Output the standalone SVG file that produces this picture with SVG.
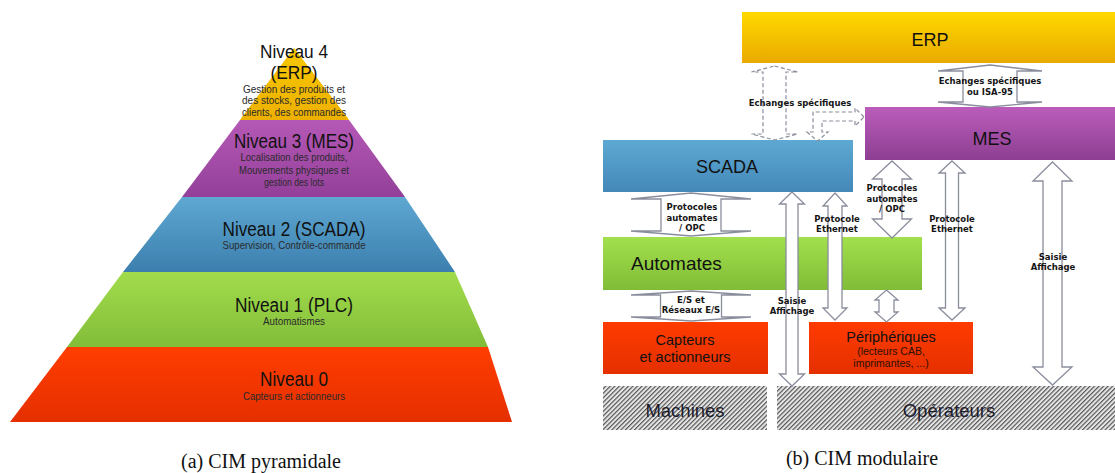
<svg xmlns="http://www.w3.org/2000/svg" width="1115" height="473" viewBox="0 0 1115 473">
  <defs>
    <linearGradient id="gY" x1="0" y1="0" x2="0" y2="1"><stop offset="0" stop-color="#f7c800"/><stop offset="1" stop-color="#eeb000"/></linearGradient>
    <linearGradient id="gP" x1="0" y1="0" x2="0" y2="1"><stop offset="0" stop-color="#b558b6"/><stop offset="1" stop-color="#93409a"/></linearGradient>
    <linearGradient id="gB" x1="0" y1="0" x2="0" y2="1"><stop offset="0" stop-color="#5ea8d2"/><stop offset="1" stop-color="#3c7fae"/></linearGradient>
    <linearGradient id="gG" x1="0" y1="0" x2="0" y2="1"><stop offset="0" stop-color="#a2dc4c"/><stop offset="1" stop-color="#82bd39"/></linearGradient>
    <linearGradient id="gR" x1="0" y1="0" x2="0" y2="1"><stop offset="0" stop-color="#ff3d00"/><stop offset="1" stop-color="#e52f00"/></linearGradient>
    <linearGradient id="bY" x1="0" y1="0" x2="0" y2="1"><stop offset="0" stop-color="#ffd800"/><stop offset="1" stop-color="#e9aa00"/></linearGradient>
    <linearGradient id="bP" x1="0" y1="0" x2="0" y2="1"><stop offset="0" stop-color="#bb5cbb"/><stop offset="1" stop-color="#8d3f92"/></linearGradient>
    <linearGradient id="bB" x1="0" y1="0" x2="0" y2="1"><stop offset="0" stop-color="#5ea9d3"/><stop offset="1" stop-color="#4488b8"/></linearGradient>
    <linearGradient id="bG" x1="0" y1="0" x2="0" y2="1"><stop offset="0" stop-color="#a3e04d"/><stop offset="1" stop-color="#80bc36"/></linearGradient>
    <linearGradient id="bR" x1="0" y1="0" x2="0" y2="1"><stop offset="0" stop-color="#ff3b00"/><stop offset="1" stop-color="#e53000"/></linearGradient>
    <pattern id="hatch" patternUnits="userSpaceOnUse" width="3.2" height="3.2" patternTransform="rotate(45)">
      <rect width="3.2" height="3.2" fill="#e6e6e6"/>
      <line x1="0.6" y1="0" x2="0.6" y2="3.2" stroke="#4a4a4a" stroke-width="1.1"/>
    </pattern>
  </defs>
  <style>
    .lvl { font-family: "Liberation Sans", Arial, sans-serif; font-size: 20px; fill: #111; text-anchor: middle; }
    .sub { font-family: "Liberation Sans", Arial, sans-serif; font-size: 10.5px; fill: #2a2a2a; text-anchor: middle; }
    .box { font-family: "Liberation Sans", Arial, sans-serif; font-size: 18px; fill: #111; text-anchor: middle; }
    .boxs { font-family: "Liberation Sans", Arial, sans-serif; font-size: 10.5px; fill: #2a1000; text-anchor: middle; }
    .lab { font-family: "DejaVu Sans", Verdana, sans-serif; font-weight: bold; font-size: 8.5px; fill: #151515; text-anchor: middle; }
    .cap { font-family: "Liberation Serif", "Times New Roman", serif; font-size: 20px; fill: #111; text-anchor: middle; }
    .arr { fill: #ffffff; stroke: #8a8d9c; stroke-width: 1.3; stroke-linejoin: miter; }
    .dash { fill: #ffffff; stroke: #8a8d9c; stroke-width: 1.2; stroke-dasharray: 4 2.5; }
  </style>

  <!-- (a) pyramid -->
  <g id="pyramid">
    <g id="level4">
      <path d="M294,48 L347,117 L349,120 L240,120 L242,117 Z" fill="url(#gY)"/>
      <text class="lvl" x="294" y="58" style="font-size:19px" textLength="68" lengthAdjust="spacingAndGlyphs">Niveau 4</text>
      <text class="lvl" x="294" y="79" style="font-size:19px" textLength="47" lengthAdjust="spacingAndGlyphs">(ERP)</text>
      <text class="sub" x="294" y="92.5" textLength="102" lengthAdjust="spacingAndGlyphs">Gestion des produits et</text>
      <text class="sub" x="294" y="104" textLength="104" lengthAdjust="spacingAndGlyphs">des stocks, gestion des</text>
      <text class="sub" x="294" y="115.5" textLength="104" lengthAdjust="spacingAndGlyphs">clients, des commandes</text>
    </g>
    <g id="level3">
      <path d="M240,120 L349,120 L405,197 L182,197 Z" fill="url(#gP)"/>
      <text class="lvl" x="294" y="148" textLength="120" lengthAdjust="spacingAndGlyphs">Niveau 3 (MES)</text>
      <text class="sub" x="294" y="161" textLength="107" lengthAdjust="spacingAndGlyphs">Localisation des produits,</text>
      <text class="sub" x="294" y="173.5" textLength="110" lengthAdjust="spacingAndGlyphs">Mouvements physiques et</text>
      <text class="sub" x="294" y="186" textLength="60" lengthAdjust="spacingAndGlyphs">gestion des lots</text>
    </g>
    <g id="level2">
      <path d="M182,197 L405,197 L455,272 L123,272 Z" fill="url(#gB)"/>
      <text class="lvl" x="294" y="236" textLength="143" lengthAdjust="spacingAndGlyphs">Niveau 2 (SCADA)</text>
      <text class="sub" x="294" y="249" textLength="143" lengthAdjust="spacingAndGlyphs">Supervision, Contrôle-commande</text>
    </g>
    <g id="level1">
      <path d="M123,272 L455,272 L488,347 L67,347 Z" fill="url(#gG)"/>
      <text class="lvl" x="294" y="312" textLength="118" lengthAdjust="spacingAndGlyphs">Niveau 1 (PLC)</text>
      <text class="sub" x="294" y="325" textLength="62" lengthAdjust="spacingAndGlyphs">Automatismes</text>
    </g>
    <g id="level0">
      <path d="M67,347 L488,347 L512,422 L10,422 Z" fill="url(#gR)"/>
      <text class="lvl" x="294" y="386" textLength="68" lengthAdjust="spacingAndGlyphs">Niveau 0</text>
      <text class="sub" x="294" y="400" textLength="102" lengthAdjust="spacingAndGlyphs">Capteurs et actionneurs</text>
    </g>
  </g>
  <text class="cap" x="261" y="468">(a) CIM pyramidale</text>

  <!-- (b) modular view: nodes -->
  <g id="erp">
    <rect x="742" y="12" width="373" height="51" fill="url(#bY)"/>
    <text class="box" x="930" y="46">ERP</text>
  </g>
  <g id="mes">
    <rect x="865" y="107" width="250" height="53" fill="url(#bP)"/>
    <text class="box" x="992" y="145">MES</text>
  </g>
  <g id="scada">
    <rect x="603" y="140" width="250" height="52" fill="url(#bB)"/>
    <text class="box" x="727" y="173">SCADA</text>
  </g>
  <g id="automates">
    <rect x="603" y="237" width="319" height="53" fill="url(#bG)"/>
    <text class="box" x="631" y="270" style="text-anchor:start;font-size:19px">Automates</text>
  </g>
  <g id="capteurs">
    <rect x="603" y="322" width="165" height="52" fill="url(#bR)"/>
    <text class="box" x="685" y="345" style="font-size:14.5px">Capteurs</text>
    <text class="box" x="685" y="362" style="font-size:14.5px">et actionneurs</text>
  </g>
  <g id="peripheriques">
    <rect x="809" y="322" width="164" height="52" fill="url(#bR)"/>
    <text class="box" x="891" y="342" style="font-size:14.5px">Périphériques</text>
    <text class="boxs" x="891" y="355">(lecteurs CAB,</text>
    <text class="boxs" x="891" y="367">imprimantes, ...)</text>
  </g>
  <g id="machines">
    <rect x="603" y="386" width="164" height="44" fill="url(#hatch)"/>
    <text class="box" x="685" y="417" style="font-size:18.5px;fill:#1c1c2c">Machines</text>
  </g>
  <g id="operateurs">
    <rect x="777" y="386" width="338" height="44" fill="url(#hatch)"/>
    <text class="box" x="949" y="417" style="font-size:18.5px;fill:#1c1c2c">Opérateurs</text>
  </g>

  <!-- (b) connectors: block arrows -->
  <g id="connectors">
    <!-- ERP / SCADA, dashed -->
    <path class="dash" d="M774.5,66 L797.5,72 L786,72 L786,134 L797.5,134 L774.5,140 L751.5,134 L763,134 L763,72 L751.5,72 Z"/>
    <!-- SCADA / MES, dashed elbow -->
    <path class="dash" d="M864,117 L855,108 L855,112 L813,112 L813,132 L807,132 L817.5,141 L828,132 L822,132 L822,121 L855,121 L855,126 Z"/>
    <!-- ERP / MES -->
    <path class="arr" d="M990,65 L1042,71 L1017,71 L1017,102 L1042,102 L990,107 L938,102 L963,102 L963,71 L938,71 Z"/>
    <!-- SCADA / Automates -->
    <path class="arr" d="M691,193 L751,199 L721,199 L721,231 L751,231 L691,236 L631,231 L661,231 L661,199 L631,199 Z"/>
    <!-- Automates / Capteurs -->
    <path class="arr" d="M691,291 L751,295 L721.5,295 L721.5,317 L751,317 L691,321 L631,317 L660.5,317 L660.5,295 L631,295 Z"/>
    <!-- SCADA / Machines: saisie, affichage -->
    <path class="arr" d="M792,192 L804.5,204 L798,204 L798,374 L804.5,374 L792,386 L779.5,374 L786,374 L786,204 L779.5,204 Z"/>
    <!-- SCADA / Périphériques: Ethernet -->
    <path class="arr" d="M835,193 L847,206 L842,206 L842,308 L847,308 L835,320 L823,308 L828,308 L828,206 L823,206 Z"/>
    <!-- Automates / Périphériques -->
    <path class="arr" d="M886.5,290 L898,300 L894,300 L894,312 L898,312 L886.5,322 L875,312 L879,312 L879,300 L875,300 Z"/>
    <!-- MES / Automates -->
    <path class="arr" d="M892,161 L911.5,179 L902,179 L902,219 L911.5,219 L892,238 L872.5,219 L882,219 L882,179 L872.5,179 Z"/>
    <!-- MES / Périphériques: Ethernet -->
    <path class="arr" d="M952,161 L965,173 L958.5,173 L958.5,308 L965,308 L952,320 L939,308 L945.5,308 L945.5,173 L939,173 Z"/>
    <!-- MES / Opérateurs: saisie, affichage -->
    <path class="arr" d="M1052.5,162 L1072,181 L1062,181 L1062,367 L1072,367 L1052.5,385 L1033,367 L1043,367 L1043,181 L1033,181 Z"/>

    <text class="lab" x="800" y="106">Echanges spécifiques</text>
    <text class="lab" x="990" y="84">Echanges spécifiques</text>
    <text class="lab" x="990" y="95">ou ISA-95</text>
    <text class="lab" x="692" y="210">Protocoles</text>
    <text class="lab" x="692" y="221">automates</text>
    <text class="lab" x="692" y="231">/ OPC</text>
    <text class="lab" x="691" y="303">E/S et</text>
    <text class="lab" x="691" y="313">Réseaux E/S</text>
    <text class="lab" x="792" y="304">Saisie</text>
    <text class="lab" x="792" y="314">Affichage</text>
    <text class="lab" x="837" y="222">Protocole</text>
    <text class="lab" x="837" y="232">Ethernet</text>
    <text class="lab" x="892" y="191">Protocoles</text>
    <text class="lab" x="892" y="202">automates</text>
    <text class="lab" x="892" y="212">/ OPC</text>
    <text class="lab" x="952" y="222">Protocole</text>
    <text class="lab" x="952" y="232">Ethernet</text>
    <text class="lab" x="1053" y="260">Saisie</text>
    <text class="lab" x="1053" y="270">Affichage</text>
  </g>
  <text class="cap" x="862" y="465">(b) CIM modulaire</text>
</svg>
